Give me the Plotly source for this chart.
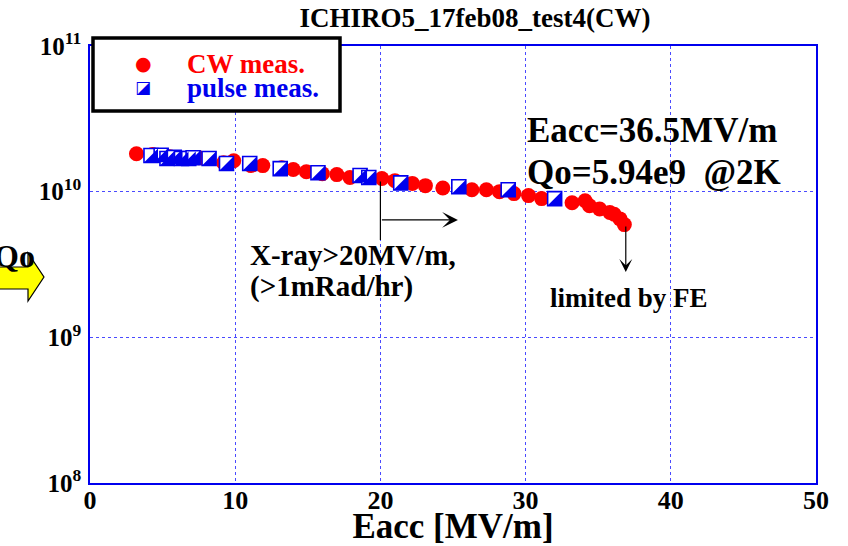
import plotly.graph_objects as go

# ---------------- data ----------------
cw_eacc = [3.2, 4.3, 5.5, 7.5, 7.9, 9.2, 9.9, 11.1, 11.9, 13.2, 14.0, 14.9, 16.0,
           17.0, 17.9, 20.1, 21.0, 22.2, 23.1, 24.3, 26.3, 27.3, 28.2, 29.2, 30.2,
           31.1, 33.2, 34.1, 34.4, 35.1, 35.8, 36.1, 36.5, 36.8]
cw_q = [1.82e10, 1.80e10, 1.74e10, 1.71e10, 1.69e10, 1.58e10, 1.63e10, 1.51e10,
        1.51e10, 1.46e10, 1.42e10, 1.37e10, 1.33e10, 1.31e10, 1.25e10, 1.23e10,
        1.19e10, 1.14e10, 1.10e10, 1.06e10, 1.03e10, 1.03e10, 1.00e10, 9.7e9,
        9.4e9, 8.96e9, 8.4e9, 8.67e9, 8.0e9, 7.6e9, 7.2e9, 7.0e9, 6.5e9, 5.94e9]

pulse_eacc = [4.2, 4.9, 5.3, 5.8, 6.3, 6.8, 7.1, 8.2, 9.4, 11.0, 13.1, 15.7, 18.6,
              19.2, 21.4, 25.4, 28.8, 32.0]
pulse_q = [1.77e10, 1.78e10, 1.69e10, 1.72e10, 1.69e10, 1.69e10, 1.71e10, 1.69e10,
           1.56e10, 1.56e10, 1.44e10, 1.35e10, 1.29e10, 1.25e10, 1.15e10, 1.08e10,
           1.03e10, 8.96e9]

x_ticks = [0, 10, 20, 30, 40, 50]
y_ticks = [1e8, 1e9, 1e10, 1e11]
y_ticktext = ["10<sup>8</sup>", "10<sup>9</sup>", "10<sup>10</sup>", "10<sup>11</sup>"]

title_text = "ICHIRO5_17feb08_test4(CW)"
x_title = "Eacc [MV/m]"
y_title = "Qo"
legend_cw = "CW meas."
legend_pulse = "pulse meas."

# ---------------- layout geometry ----------------
W, H = 848, 546
L, R, T, B = 90, 32, 46, 63
PW, PH = W - L - R, H - T - B
X_RANGE = [0, 50]
Y_RANGE = [8, 11]
FONT = "Liberation Serif"
BLUE = "#0000ee"
GRID = "#4a4aff"
RED = "#ff0000"

SQ = 14                      # square marker size (px)
TRI = SQ / 1.8 * 2           # triangle-se size with legs equal to the square side
shift_px = SQ / 2 - 0.6 * TRI / 2
dx = shift_px / (PW / (X_RANGE[1] - X_RANGE[0]))
dy = shift_px / (PH / (Y_RANGE[1] - Y_RANGE[0]))


def px(xp):
    return (xp - L) / PW


def py(yp):
    return (H - B - yp) / PH


fig = go.Figure()

fig.add_trace(go.Scatter(
    x=cw_eacc, y=cw_q, mode="markers", name=legend_cw, showlegend=False,
    marker=dict(symbol="circle", size=15, color=RED, line=dict(width=0))))

fig.add_trace(go.Scatter(
    x=pulse_eacc, y=pulse_q, mode="markers", name=legend_pulse, showlegend=False,
    marker=dict(symbol="square", size=SQ, color="white",
                line=dict(width=1.6, color=BLUE))))

fig.add_trace(go.Scatter(
    x=pulse_eacc, y=pulse_q, mode="markers", name=legend_pulse, showlegend=False,
    xaxis="x2", yaxis="y2",
    marker=dict(symbol="triangle-se", size=TRI, color=BLUE, line=dict(width=0))))

fig.update_layout(
    width=W, height=H,
    margin=dict(l=L, r=R, t=T, b=B, autoexpand=False),
    paper_bgcolor="white", plot_bgcolor="white",
    showlegend=False,
    title=dict(text=title_text, x=475 / W, xref="container", xanchor="center",
               y=1 - 18 / H, yref="container", yanchor="middle",
               font=dict(family=FONT, size=27, color="black", weight="bold")),
    xaxis=dict(range=X_RANGE, tickvals=x_ticks, ticktext=[str(v) for v in x_ticks],
               tickfont=dict(family=FONT, size=26, color="black", weight="bold"),
               ticks="", ticklabelstandoff=-7, showline=True, mirror=True,
               automargin=False, linecolor=BLUE, linewidth=1.5, showgrid=True,
               gridcolor=GRID, griddash="dot", gridwidth=1.3, zeroline=False,
               title=dict(text=x_title, standoff=4,
                          font=dict(family=FONT, size=35, color="black", weight="bold"))),
    yaxis=dict(type="log", range=Y_RANGE, tickvals=y_ticks, ticktext=y_ticktext,
               tickfont=dict(family=FONT, size=25, color="black", weight="bold"),
               ticks="", ticklabelstandoff=2, showline=True, automargin=False,
               mirror=True, linecolor=BLUE, linewidth=1.5, showgrid=True,
               gridcolor=GRID, griddash="dot", gridwidth=1.3, zeroline=False),
    xaxis2=dict(range=[X_RANGE[0] - dx, X_RANGE[1] - dx], overlaying="x",
                anchor="y2", visible=False, showgrid=False),
    yaxis2=dict(type="log", range=[Y_RANGE[0] + dy, Y_RANGE[1] + dy], overlaying="y",
                anchor="x2", visible=False, showgrid=False),
)

# ---------------- in-plot annotations ----------------
big = dict(family=FONT, size=35, color="black", weight="bold")
mid = dict(family=FONT, size=29, color="black", weight="bold")
sml = dict(family=FONT, size=27, color="black", weight="bold")

fig.add_annotation(x=29.96, y=10.42, xref="x", yref="y", text="Eacc=36.5MV/m",
                   showarrow=False, xanchor="left", yanchor="middle", font=big)
fig.add_annotation(x=29.96, y=10.135, xref="x", yref="y",
                   text="Qo=5.94e9\u00a0\u00a0@2K",
                   showarrow=False, xanchor="left", yanchor="middle", font=big)
fig.add_annotation(x=10.88, y=9.566, xref="x", yref="y", text="X-ray>20MV/m,",
                   showarrow=False, xanchor="left", yanchor="middle", font=mid)
fig.add_annotation(x=10.88, y=9.346, xref="x", yref="y", text="(>1mRad/hr)",
                   showarrow=False, xanchor="left", yanchor="middle", font=mid)
fig.add_annotation(x=31.54, y=9.27, xref="x", yref="y", text="limited by FE",
                   showarrow=False, xanchor="left", yanchor="middle", font=sml)

# vertical line at 20 MV/m (shape on log axis uses data values)
fig.add_shape(type="line", xref="x", yref="y", x0=20, x1=20, y0=10 ** 9.668,
              y1=10 ** 10.07, line=dict(color="black", width=1.2))
# horizontal arrow
fig.add_annotation(x=25.34, y=9.806, ax=20, ay=9.806, xref="x", yref="y", axref="x",
                   ayref="y", text="", showarrow=True, arrowhead=3, arrowsize=2.2,
                   arrowwidth=1.2, arrowcolor="black")
# down arrow "limited by FE"
fig.add_annotation(x=36.9, y=9.449, ax=36.9, ay=9.771, xref="x", yref="y", axref="x",
                   ayref="y", text="", showarrow=True, arrowhead=3, arrowsize=1.8,
                   arrowwidth=1.2, arrowcolor="black")

# ---------------- legend box (manual) ----------------
fig.add_shape(type="rect", xref="paper", yref="paper", layer="above",
              x0=px(93), x1=px(340), y0=py(111), y1=py(38),
              fillcolor="white", line=dict(color="black", width=3.5))
fig.add_annotation(x=px(143), y=py(63), xref="paper", yref="paper", text="●",
                   showarrow=False, xanchor="center", yanchor="middle",
                   font=dict(family="DejaVu Sans", size=19, color=RED))
fig.add_annotation(x=px(143), y=py(87), xref="paper", yref="paper", text="◪",
                   showarrow=False, xanchor="center", yanchor="middle",
                   font=dict(family="DejaVu Sans", size=17, color=BLUE))
fig.add_annotation(x=px(185), y=py(64), xref="paper", yref="paper", text=legend_cw,
                   showarrow=False, xanchor="left", yanchor="middle",
                   font=dict(family=FONT, size=27, color=RED, weight="bold"))
fig.add_annotation(x=px(185), y=py(88), xref="paper", yref="paper", text=legend_pulse,
                   showarrow=False, xanchor="left", yanchor="middle",
                   font=dict(family=FONT, size=27, color=BLUE, weight="bold"))

# ---------------- Qo label with yellow arrow ----------------
arrow_pts = [(-2, 267), (28, 267), (28, 253), (44, 277), (28, 301), (28, 289), (-2, 289)]
path = "M " + " L ".join(f"{px(a):.4f},{py(b):.4f}" for a, b in arrow_pts) + " Z"
fig.add_shape(type="path", path=path, xref="paper", yref="paper", layer="above",
              fillcolor="#ffff00", line=dict(color="black", width=1.2))
fig.add_annotation(x=px(37), y=py(256), xref="paper", yref="paper", text=y_title,
                   showarrow=False, xanchor="right", yanchor="middle",
                   font=dict(family=FONT, size=32, color="black", weight="bold"))

fig.write_html("out.html", config={"displayModeBar": False},
               post_script="document.body.style.margin='0px';")
